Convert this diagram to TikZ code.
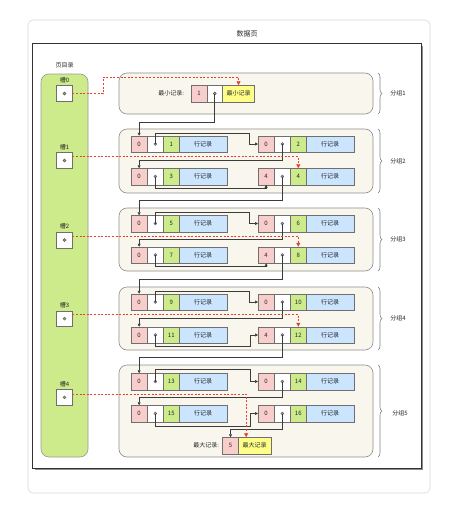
\documentclass[tikz,border=0pt]{standalone}
\usepackage{fontspec}
\newfontfamily\cjk{Noto Sans CJK SC}
\usetikzlibrary{arrows.meta,decorations.pathreplacing,calc}
\definecolor{pinkf}{HTML}{F8CECC}
\definecolor{greenf}{HTML}{CDEB8B}
\definecolor{bluef}{HTML}{CCE5FF}
\definecolor{yellowf}{HTML}{FFFF88}
\definecolor{groupf}{HTML}{F9F7ED}
\definecolor{cellb}{HTML}{6F6F6F}
\definecolor{lineb}{HTML}{3C3C3C}
\definecolor{redd}{HTML}{E8402E}
\definecolor{frameg}{HTML}{D8D8D8}
\newcommand\rec[5]{%
  \node[pinkc] (#1p) at (#2,#3) {#4};
  \node[whitec] (#1w) at (#1p.east) {};
  \node[greenc] (#1g) at (#1w.east) {#5};
  \node[bluec] (#1b) at (#1g.east) {行记录};
  \filldraw[dotc] (#1w.center) circle (1.5pt);
}
\begin{document}
\begin{tikzpicture}[x=1pt,y=-1pt,
  every node/.style={font=\cjk\fontsize{6}{7}\selectfont, text=black!85, inner sep=0pt, outer sep=0pt},
  cell/.style={draw=cellb, line width=0.5pt, minimum height=16.5pt, anchor=west},
  pinkc/.style={cell, fill=pinkf, minimum width=16.3pt},
  whitec/.style={cell, fill=white, minimum width=16pt},
  greenc/.style={cell, fill=greenf, minimum width=16pt},
  bluec/.style={cell, fill=bluef, minimum width=47.5pt},
  yellowc/.style={cell, fill=yellowf, minimum width=32.5pt},
  dotc/.style={fill=black!40, draw=black!65, line width=0.4pt},
  slotbox/.style={draw=cellb, fill=white, line width=0.5pt, minimum size=15.6pt},
  groupbox/.style={draw=black!45, fill=groupf, rounded corners=8pt, line width=0.6pt},
  gbrace/.style={draw=black!50, line width=0.6pt, decorate, decoration={brace, amplitude=4pt}},
  link/.style={draw=lineb, line width=0.6pt, -{Triangle[length=3pt,width=3pt]}},
  slotlink/.style={draw=redd, line width=0.9pt, dash pattern=on 2pt off 1.6pt, -{Triangle[length=4pt,width=4pt]}},
]
\useasboundingbox (0,0) rectangle (453,514);
% outer frame
\draw[draw=frameg, fill=white, line width=0.6pt, rounded corners=5pt] (28,20) rectangle (430,493);
\node[font=\cjk\fontsize{7}{8}\selectfont] (title) at (247,34) {数据页};
% inner frame
\fill[black!45] (34.5,45.5) rectangle (422.5,469.8);
\draw[draw=black!80, fill=white, line width=0.5pt] (32.3,43) rectangle (420.8,468);
% page directory
\node (pdl) at (64.5,65) {页目录};
\draw[draw=black!40, fill=greenf, rounded corners=8pt, line width=0.6pt] (41,74) rectangle (88,457);
\foreach \i/\y in {0/93.5,1/160.5,2/240,3/318.7,4/397.3}{
  \node[slotbox] (s\i) at (64.5,\y) {};
  \filldraw[dotc] (s\i.center) circle (1.5pt);
  \node (s\i l) at ($(s\i.north)+(0,-5.5)$) {槽\i};
}
% groups
\draw[groupbox] (119,73) rectangle (373,114);
\draw[groupbox] (119,129) rectangle (373,193);
\draw[groupbox] (119,208) rectangle (373,271);
\draw[groupbox] (119,287) rectangle (373,350);
\draw[groupbox] (119,365) rectangle (373,457);
\draw[gbrace] (378,73) -- (378,114);
\draw[gbrace] (378,129) -- (378,193);
\draw[gbrace] (378,208) -- (378,271);
\draw[gbrace] (378,287) -- (378,350);
\draw[gbrace] (378,365) -- (378,457);
\node (gl1) at (398,93.5) {分组1};
\node (gl2) at (398,161) {分组2};
\node (gl3) at (398,239.5) {分组3};
\node (gl4) at (398,318.5) {分组4};
\node (gl5) at (400,413) {分组5};
% minimum record
\node[anchor=east] (minl) at (184,93.5) {最小记录:};
\node[pinkc, minimum width=16pt] (minp) at (191,93.5) {1};
\node[whitec, minimum width=15.5pt] (minw) at (minp.east) {};
\filldraw[dotc] (minw.center) circle (1.5pt);
\node[yellowc, minimum width=32pt] (miny) at (minw.east) {最小记录};
% records
\rec{ra}{131}{144}{0}{1}
\rec{rb}{258}{144}{0}{2}
\rec{rc}{131}{176.5}{0}{3}
\rec{rd}{258}{176.5}{4}{4}
\rec{re}{131}{223.5}{0}{5}
\rec{rf}{258}{223.5}{0}{6}
\rec{rg}{131}{255}{0}{7}
\rec{rh}{258}{255}{4}{8}
\rec{ri}{131}{302}{0}{9}
\rec{rj}{258}{302}{0}{10}
\rec{rk}{131}{335}{0}{11}
\rec{rl}{258}{335}{4}{12}
\rec{rm}{131}{381.5}{0}{13}
\rec{rn}{258}{381.5}{0}{14}
\rec{ro}{131}{413.5}{0}{15}
\rec{rq}{258}{413.5}{0}{16}
% maximum record
\node[anchor=east] (maxl) at (219,445.5) {最大记录:};
\node[pinkc, minimum width=15.6pt] (maxp) at (222.7,445.5) {5};
\node[yellowc, minimum width=32.7pt] (maxy) at (maxp.east) {最大记录};
% record links
\draw[link] (minw.center) -- ++(0,28.5) -| (rap.north);
\draw[link] (raw.center) -- ++(0,-11) -| ([xshift=-9pt]rbp.west) -- (rbp.west);
\draw[link] (rbw.center) -- ++(0,16) -| (rcp.north);
\draw[link] (rcw.center) -- ++(0,11.5) -| (rdp.south);
\draw[link] (rdw.center) -- ++(0,23.5) -| (rep.north);
\draw[link] (rew.center) -- ++(0,-11) -| ([xshift=-9pt]rfp.west) -- (rfp.west);
\draw[link] (rfw.center) -- ++(0,16) -| (rgp.north);
\draw[link] (rgw.center) -- ++(0,11.5) -| (rhp.south);
\draw[link] (rhw.center) -- ++(0,24) -| (rip.north);
\draw[link] (riw.center) -- ++(0,-11) -| ([xshift=-9pt]rjp.west) -- (rjp.west);
\draw[link] (rjw.center) -- ++(0,16) -| (rkp.north);
\draw[link] (rkw.center) -- ++(0,11) -| ([xshift=-8pt]rlp.west) -- (rlp.west);
\draw[link] (rlw.center) -- ++(0,22) -| (rmp.north);
\draw[link] (rmw.center) -- ++(0,-12) -| ([xshift=-8pt]rnp.west) -- (rnp.west);
\draw[link] (rnw.center) -- ++(0,15.5) -| (rop.north);
\draw[link] (row.center) -- ++(0,12.5) -| ([xshift=-8pt]rqp.west) -- (rqp.west);
\draw[link] (rqw.center) -- ++(0,15.5) -| (maxp.north);
% slot links
\draw[slotlink] ([yshift=-0.3pt]s0.east) -- ++(30.7,0) |- ([yshift=8pt]miny.north) -- (miny.north);
\draw[slotlink] ([yshift=-4pt]s1.north east) -| (rdg.north);
\draw[slotlink] ([yshift=-4pt]s2.north east) -| (rhg.north);
\draw[slotlink] ([yshift=-4pt]s3.north east) -| (rlg.north);
\draw[slotlink] ([yshift=-4.5pt]s4.north east) -| ([xshift=-8.5pt]maxy.north);
\end{tikzpicture}
\end{document}
